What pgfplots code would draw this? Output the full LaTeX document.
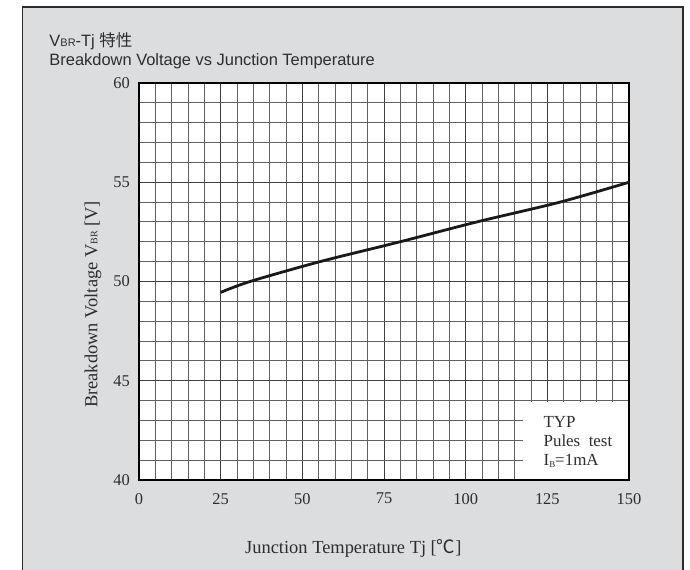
\documentclass[border=0pt]{standalone}
\usepackage{fontspec}
\setmainfont{Liberation Serif}
\newfontfamily\sans{Liberation Sans}
\newfontfamily\cjk{Noto Sans CJK JP}
\usepackage{pgfplots}
\pgfplotsset{compat=1.18}
\definecolor{panel}{RGB}{220,221,223}
\definecolor{ink}{RGB}{45,45,45}
\begin{document}
\begin{tikzpicture}
\useasboundingbox (-139bp,-90bp) rectangle (551bp,480bp);
% grey panel behind the chart
\fill[panel] (-116.5bp,-95bp) rectangle (544bp,473bp);
\draw[ink, line width=1.5bp] (-116.5bp,-95bp) -- (-116.5bp,473bp) -- (544bp,473bp) -- (544bp,-95bp);
\begin{axis}[
    scale only axis,
    width=490bp, height=397bp,
    xmin=0, xmax=150, ymin=40, ymax=60,
    xtick={0,25,...,150},
    ytick={40,45,...,60},
    minor xtick={0,5,...,150},
    minor ytick={40,41,...,60},
    grid=both,
    major grid style={black!75, line width=1bp},
    minor grid style={black!62, line width=1bp},
    major tick length=0pt, minor tick length=0pt,
    axis background/.style={fill=white},
    axis line style={black, line width=1.2bp},
    /pgf/number format/assume math mode=true,
    tick label style={font=\fontsize{16.5}{16.5}\selectfont, text=ink},
    xticklabel style={inner sep=0pt, yshift=-13bp},
    yticklabel style={inner sep=0pt, xshift=-9bp},
]
\addplot[black!90, line width=2.8bp, smooth, tension=0.5] coordinates {
    (25,49.45) (34,50) (55.4,51) (79.9,52) (103.4,53) (128.9,54) (150,55)
};
% legend box
\fill[white] (axis cs:117.5,40) rectangle (axis cs:150,43.95);
\draw[black, line width=1.2bp] (axis cs:117.5,40) -- (axis cs:150,40) -- (axis cs:150,43.95);
\node[anchor=base west, font=\fontsize{17}{17}\selectfont, text=ink, inner sep=0pt] at (axis cs:123.8,42.62) {TYP};
\node[anchor=base west, font=\fontsize{17}{17}\selectfont, text=ink, inner sep=0pt] at (axis cs:123.8,41.68) {Pules\ \ test};
\node[anchor=base west, font=\fontsize{17}{17}\selectfont, text=ink, inner sep=0pt] at (axis cs:123.8,40.72) {I\raisebox{-1.5pt}{\fontsize{9}{9}\selectfont B}=1mA};
\end{axis}
% titles
\node[anchor=base west, inner sep=0pt, text=ink, font=\sans\fontsize{16.5}{16.5}\selectfont] at (-89.7bp,433.3bp)
    {V{\fontsize{11}{11}\selectfont BR}-Tj {\cjk 特性}};
\node[anchor=base west, inner sep=0pt, text=ink, font=\sans\fontsize{16.5}{16.5}\selectfont] at (-89.7bp,414.3bp)
    {Breakdown Voltage vs Junction Temperature};
% axis labels
\node[anchor=base west, inner sep=0pt, text=ink, font=\fontsize{18.5}{18.5}\selectfont] at (106bp,-73.3bp)
    {Junction Temperature Tj [{\cjk ℃}]};
\node[anchor=base, rotate=90, inner sep=0pt, text=ink, font=\fontsize{18.5}{18.5}\selectfont] at (-41.5bp,175.5bp)
    {Breakdown Voltage V{\fontsize{10}{10}\selectfont BR} [V]};
\end{tikzpicture}
\end{document}
